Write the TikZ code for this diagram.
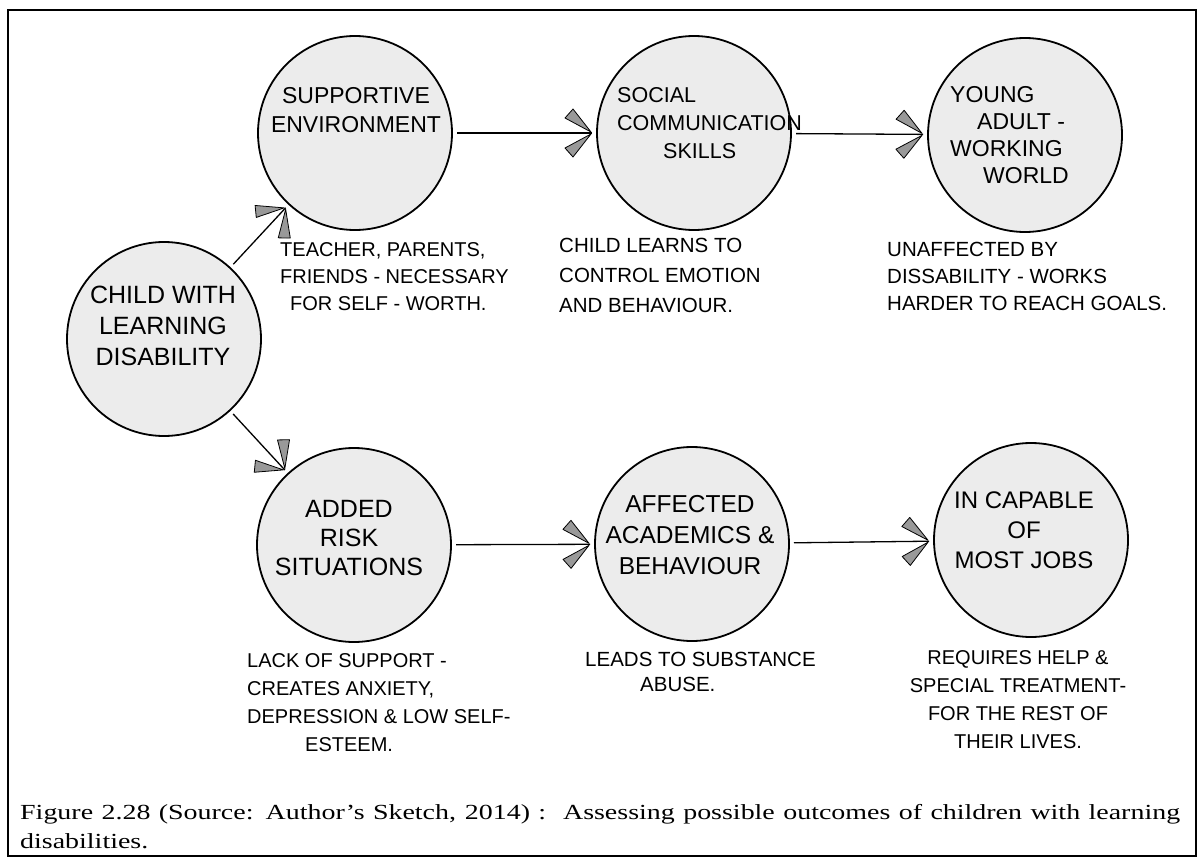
\documentclass[tikz,border=0pt]{standalone}
\usepackage{fontspec}
\setmainfont{Liberation Serif}
\newfontfamily\handfont{Liberation Sans}
\usetikzlibrary{decorations.markings}
\definecolor{discfill}{gray}{0.925}
\definecolor{barbgray}{gray}{0.6}

\tikzset{
  disc/.style={circle, draw=black, line width=1.8pt, fill=discfill,
    minimum size=194pt, inner sep=0pt, outer sep=5pt},
  hand/.style={font=\handfont\fontsize{23}{29}\selectfont, inner sep=0pt,
    align=center, anchor=north},
  handl/.style={font=\handfont\fontsize{23}{27}\selectfont, inner sep=0pt,
    align=left, anchor=north west},
  note/.style={font=\handfont\fontsize{20}{28}\selectfont, inner sep=0pt,
    align=left, anchor=north west},
  barb/.style={fill=barbgray, draw=black, line width=0.8pt, line join=round},
  flow/.style={line width=1.3pt,
    postaction={decorate, decoration={markings, mark=at position 1 with {
      \filldraw[barb] (-1,-1) -- (-19,-24) -- (-27,-15) -- cycle;
      \filldraw[barb] (-1,1) -- (-19,24) -- (-27,15) -- cycle;}}}},
  caption/.style={font=\fontsize{21.5}{26}\selectfont, inner sep=0pt, anchor=base west}
}

\begin{document}
\begin{tikzpicture}[x=1pt, y=-1pt]
\useasboundingbox (0,0) rectangle (1204,859);
\draw[line width=1.6pt] (8,10) rectangle (1196,856);

% outcome circles
\node[disc] (child) at (164,339) {};
\node[disc] (sup)   at (355,133) {};
\node[disc] (soc)   at (694,133) {};
\node[disc] (young) at (1025,135) {};
\node[disc] (risk)  at (354,545) {};
\node[disc] (acad)  at (692,544) {};
\node[disc] (jobs)  at (1031,540) {};

% connectors
\draw[flow] (child) -- (sup);
\draw[flow] (child) -- (risk);
\draw[flow] (sup) -- (soc);
\draw[flow] (soc) -- (young);
\draw[flow] (risk) -- (acad);
\draw[flow] (acad) -- (jobs);

% circle titles
\node[hand, font=\handfont\fontsize{25}{31}\selectfont] (childT) at (163,286)
  {CHILD WITH\\LEARNING\\DISABILITY};
\node[hand] (supT) at (356,87) {SUPPORTIVE\\ENVIRONMENT};
\node[handl, font=\handfont\fontsize{21.5}{28}\selectfont] (socT) at (617,87)
  {SOCIAL\\COMMUNICATION\\\hspace*{46pt}SKILLS};
\node[handl] (youngT) at (950,86)
  {YOUNG\\\hspace*{27pt}ADULT -\\WORKING\\\hspace*{33pt}WORLD};
\node[hand, font=\handfont\fontsize{25}{29}\selectfont] (riskT) at (349,500)
  {ADDED\\RISK\\SITUATIONS};
\node[hand, font=\handfont\fontsize{24.5}{31}\selectfont] (acadT) at (690,495)
  {AFFECTED\\ACADEMICS \&\\BEHAVIOUR};
\node[hand, font=\handfont\fontsize{24}{30}\selectfont] (jobsT) at (1024,492)
  {IN CAPABLE\\OF\\MOST JOBS};

% notes under the circles
\node[note, font=\handfont\fontsize{20}{27}\selectfont] (supN) at (280,242)
  {TEACHER, PARENTS,\\FRIENDS - NECESSARY\\\hspace*{10pt}FOR SELF - WORTH.};
\node[note, font=\handfont\fontsize{20.5}{30}\selectfont] (socN) at (559,238)
  {CHILD LEARNS TO\\CONTROL EMOTION\\AND BEHAVIOUR.};
\node[note, font=\handfont\fontsize{20.5}{27}\selectfont] (youngN) at (887,242)
  {UNAFFECTED BY\\DISSABILITY - WORKS\\HARDER TO REACH GOALS.};
\node[note] (riskN) at (247,653)
  {LACK OF SUPPORT -\\CREATES ANXIETY,\\DEPRESSION \& LOW SELF-\\\hspace*{58pt}ESTEEM.};
\node[note, font=\handfont\fontsize{20.5}{25}\selectfont] (acadN) at (585,652)
  {LEADS TO SUBSTANCE\\\hspace*{55pt}ABUSE.};
\node[note, align=center, anchor=north] (jobsN) at (1018,650)
  {REQUIRES HELP \&\\SPECIAL TREATMENT-\\FOR THE REST OF\\THEIR LIVES.};

% figure caption
\node[caption] (capA) at (20,819)
  {\scalebox{1.3}[1]{\makebox[892.3pt][s]{Figure 2.28 (Source: Author’s Sketch, 2014) :\ \ Assessing possible outcomes of children with learning}}};
\node[caption] (capB) at (20,848) {\scalebox{1.3}[1]{disabilities.}};
\end{tikzpicture}
\end{document}
